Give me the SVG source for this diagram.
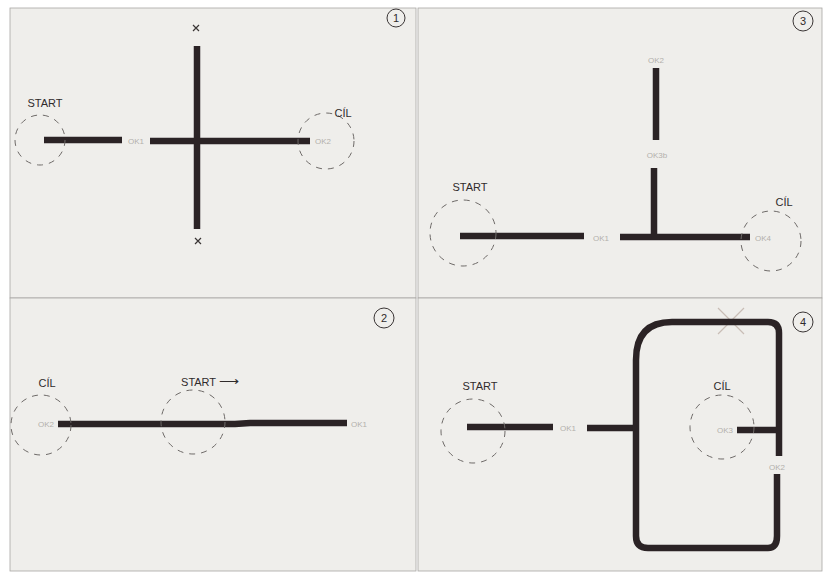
<svg xmlns="http://www.w3.org/2000/svg" width="825" height="576" viewBox="0 0 825 576">
<defs>
<style>
.paper{fill:#efeeeb;stroke:#a8a6a3;stroke-width:0.8}
.track{fill:none;stroke:#2b2325;stroke-width:6.5;stroke-linecap:butt;stroke-linejoin:round}
.zone{fill:none;stroke:#6e6a68;stroke-width:1;stroke-dasharray:6 6}
.hand{font-family:"Liberation Sans",Arial,sans-serif;font-size:11px;fill:#2f2b2b;text-anchor:middle}
.pencil{font-family:"Liberation Sans",Arial,sans-serif;font-size:8px;fill:#b3b0ab;text-anchor:middle}
.num{fill:none;stroke:#3a3535;stroke-width:1}
.cross{stroke:#3a3535;stroke-width:1.2}
.faint{stroke:#c9bdb6;stroke-width:1.2}
</style>
</defs>
<rect width="825" height="576" fill="#ffffff"/>
<g id="sheet1">
<rect class="paper" x="10" y="8" width="406" height="290"/>
<circle class="num" cx="396" cy="18" r="9"/><text class="hand" x="396" y="22" font-size="11">1</text>
<path class="track" d="M197 46V229M44 140H122M150 141H310"/>
<path class="cross" d="M193 25l6 6M199 25l-6 6M195 238l6 6M201 238l-6 6"/>
<circle class="zone" cx="40" cy="140" r="25"/>
<circle class="zone" cx="326" cy="141" r="28"/>
<text class="hand" x="45" y="107">START</text>
<text class="hand" x="343" y="117">CÍL</text>
<text class="pencil" x="136" y="144">OK1</text>
<text class="pencil" x="323" y="144">OK2</text>
</g>
<g id="sheet3">
<rect class="paper" x="418" y="8" width="404" height="290"/>
<circle class="num" cx="803" cy="21" r="10"/><text class="hand" x="803" y="25" font-size="12">3</text>
<path class="track" d="M656 68V140M654 168V236M460 236H584M620 237H750"/>
<circle class="zone" cx="463" cy="233" r="33"/>
<circle class="zone" cx="771" cy="241" r="30"/>
<text class="hand" x="470" y="191">START</text>
<text class="hand" x="784" y="206">CÍL</text>
<text class="pencil" x="656" y="63">OK2</text>
<text class="pencil" x="657" y="158">OK3b</text>
<text class="pencil" x="601" y="241">OK1</text>
<text class="pencil" x="763" y="241">OK4</text>
</g>
<g id="sheet2">
<rect class="paper" x="10" y="298" width="406" height="273"/>
<circle class="num" cx="384" cy="318" r="10"/><text class="hand" x="384" y="322" font-size="12">2</text>
<path class="track" d="M58 424H235L250 423H347"/>
<circle class="zone" cx="41" cy="425" r="30"/>
<circle class="zone" cx="193" cy="422" r="32"/>
<text class="hand" x="47" y="387">CÍL</text>
<text class="hand" x="210" y="386">START <tspan font-size="14">⟶</tspan></text>
<text class="pencil" x="46" y="427">OK2</text>
<text class="pencil" x="359" y="427">OK1</text>
</g>
<g id="sheet4">
<rect class="paper" x="418" y="298" width="404" height="273"/>
<circle class="num" cx="803" cy="322" r="10"/><text class="hand" x="803" y="326" font-size="12">4</text>
<path class="faint" d="M718 308L744 334M744 308L718 334"/>
<path class="track" d="M467 427H553M587 428H634"/>
<path class="track" d="M779 456V333Q779 322 768 322H672Q636 322 636 360V536Q636 548 648 548H768Q777 548 777 536V474"/>
<path class="track" d="M737 430H779"/>
<circle class="zone" cx="473" cy="431" r="32"/>
<circle class="zone" cx="722" cy="427" r="32"/>
<text class="hand" x="480" y="390">START</text>
<text class="hand" x="722" y="390">CÍL</text>
<text class="pencil" x="568" y="431">OK1</text>
<text class="pencil" x="725" y="433">OK3</text>
<text class="pencil" x="777" y="470">OK2</text>
</g>
</svg>
